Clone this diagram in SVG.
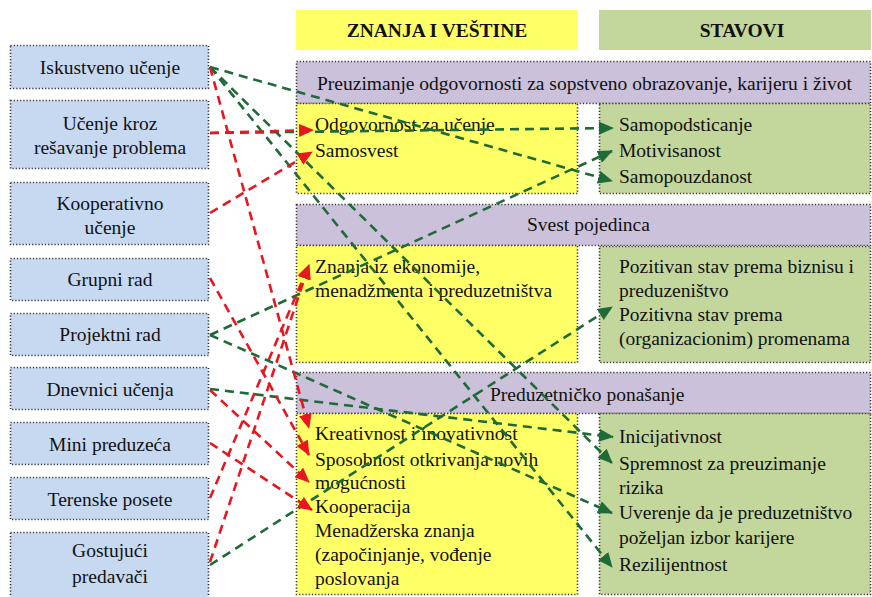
<svg xmlns="http://www.w3.org/2000/svg" width="872" height="597" viewBox="0 0 872 597">
<defs>
<style>
text{font-family:'Liberation Serif','DejaVu Serif',serif;font-size:19.5px;fill:#111}
.c{text-anchor:middle}
.b{font-weight:bold}
.meth{fill:#c6d9f1;stroke:#333;stroke-width:1.6;stroke-dasharray:1.2 2}
.band{fill:#ccc1da;stroke:#333;stroke-width:1.6;stroke-dasharray:1.2 2}
.yel{fill:#ffff66;stroke:#333;stroke-width:1.6;stroke-dasharray:1.2 2}
.grn{fill:#c3d69b;stroke:#333;stroke-width:1.6;stroke-dasharray:1.2 2}
.red{fill:none;stroke:#e8161e;stroke-width:2.6;stroke-dasharray:9 6;marker-end:url(#ar)}
.gr{fill:none;stroke:#1f6b38;stroke-width:2.6;stroke-dasharray:9 6;marker-end:url(#ag)}
</style>
<marker id="ar" markerUnits="userSpaceOnUse" markerWidth="15" markerHeight="13" refX="14" refY="6.5" orient="auto"><path d="M0,0 L15,6.5 L0,13 z" fill="#e8161e"/></marker>
<marker id="ag" markerUnits="userSpaceOnUse" markerWidth="15" markerHeight="13" refX="14" refY="6.5" orient="auto"><path d="M0,0 L15,6.5 L0,13 z" fill="#1f6b38"/></marker>
</defs>
<rect width="872" height="597" fill="#fff"/>
<g font-family="Liberation Serif, DejaVu Serif, serif">
<g id="m1"><rect class="meth" x="10.5" y="45.5" width="198" height="43"/><text class="c" x="110" y="74">Iskustveno učenje</text></g>
<g id="m2"><rect class="meth" x="10.5" y="100.5" width="198" height="68"/><text class="c" x="110" y="130">Učenje kroz</text><text class="c" x="110" y="154">rešavanje problema</text></g>
<g id="m3"><rect class="meth" x="10.5" y="182.5" width="198" height="62"/><text class="c" x="110" y="210">Kooperativno</text><text class="c" x="110" y="234">učenje</text></g>
<g id="m4"><rect class="meth" x="10.5" y="258.5" width="198" height="42"/><text class="c" x="110" y="286">Grupni rad</text></g>
<g id="m5"><rect class="meth" x="10.5" y="313.5" width="198" height="42"/><text class="c" x="110" y="341">Projektni rad</text></g>
<g id="m6"><rect class="meth" x="10.5" y="367.5" width="198" height="42"/><text class="c" x="110" y="396">Dnevnici učenja</text></g>
<g id="m7"><rect class="meth" x="10.5" y="422.5" width="198" height="42"/><text class="c" x="110" y="451">Mini preduzeća</text></g>
<g id="m8"><rect class="meth" x="10.5" y="477.5" width="198" height="42"/><text class="c" x="110" y="506">Terenske posete</text></g>
<g id="m9"><rect class="meth" x="10.5" y="532.5" width="198" height="70"/><text class="c" x="110" y="557">Gostujući</text><text class="c" x="110" y="583">predavači</text></g>

<g id="h1"><rect x="296" y="10" width="282" height="40" fill="#ffff66"/><text class="c b" x="437" y="37">ZNANJA I VEŠTINE</text></g>
<g id="h2"><rect x="599" y="10" width="272" height="40" fill="#c3d69b"/><text class="c b" x="742" y="37">STAVOVI</text></g>

<g id="band1"><rect class="band" x="296.5" y="61.5" width="574" height="42"/><text x="317" y="90">Preuzimanje odgovornosti za sopstveno obrazovanje, karijeru i život</text></g>
<g id="k1"><rect class="yel" x="296.5" y="103.5" width="281" height="90"/><text x="315" y="131">Odgovornost za učenje</text><text x="315" y="157">Samosvest</text></g>
<g id="s1"><rect class="grn" x="599.5" y="103.5" width="271" height="90"/><text x="619" y="131">Samopodsticanje</text><text x="619" y="157">Motivisanost</text><text x="619" y="183">Samopouzdanost</text></g>

<g id="band2"><rect class="band" x="296.5" y="204.5" width="574" height="41"/><text x="527" y="231">Svest pojedinca</text></g>
<g id="k2"><rect class="yel" x="296.5" y="245.5" width="281" height="117"/><text x="315" y="273">Znanja iz ekonomije,</text><text x="315" y="297">menadžmenta i preduzetništva</text></g>
<g id="s2"><rect class="grn" x="599.5" y="246.5" width="271" height="116"/><text x="619" y="273">Pozitivan stav prema biznisu i</text><text x="619" y="297">preduzeništvo</text><text x="619" y="321">Pozitivna stav prema</text><text x="619" y="345">(organizacionim) promenama</text></g>

<g id="band3"><rect class="band" x="296.5" y="372.5" width="574" height="41"/><text x="490" y="401">Preduzetničko ponašanje</text></g>
<g id="k3"><rect class="yel" x="296.5" y="413.5" width="281" height="181"/><text x="315" y="440">Kreativnost i inovativnost</text><text x="315" y="466">Sposobnost otkrivanja novih</text><text x="315" y="489">mogućnosti</text><text x="315" y="513">Kooperacija</text><text x="315" y="537">Menadžerska znanja</text><text x="315" y="561">(započinjanje, vođenje</text><text x="315" y="585">poslovanja</text></g>
<g id="s3"><rect class="grn" x="599.5" y="413.5" width="271" height="181"/><text x="619" y="443">Inicijativnost</text><text x="619" y="470">Spremnost za preuzimanje</text><text x="619" y="494">rizika</text><text x="619" y="519">Uverenje da je preduzetništvo</text><text x="619" y="544">poželjan izbor karijere</text><text x="619" y="571">Rezilijentnost</text></g>
</g>
<g id="connectors">
<path class="gr" d="M210,67 L612,181"/>
<path class="gr" d="M210,67 L612,463"/>
<path class="gr" d="M210,67 L612,567"/>
<path class="gr" d="M210,133 L613,128"/>
<path class="gr" d="M210,335 L612,151"/>
<path class="gr" d="M210,335 L612,513"/>
<path class="gr" d="M210,389 L613,437"/>
<path class="gr" d="M210,565 L612,307"/>
<path class="red" d="M210,133 L313,130"/>
<path class="red" d="M210,213 L312,152"/>
<path class="red" d="M210,498 L309,265"/>
<path class="red" d="M210,562 L309,265"/>
<path class="red" d="M210,67 L309,428"/>
<path class="red" d="M210,278 L309,455"/>
<path class="red" d="M210,390 L309,482"/>
<path class="red" d="M210,443 L312,510"/>
</g>
</svg>
